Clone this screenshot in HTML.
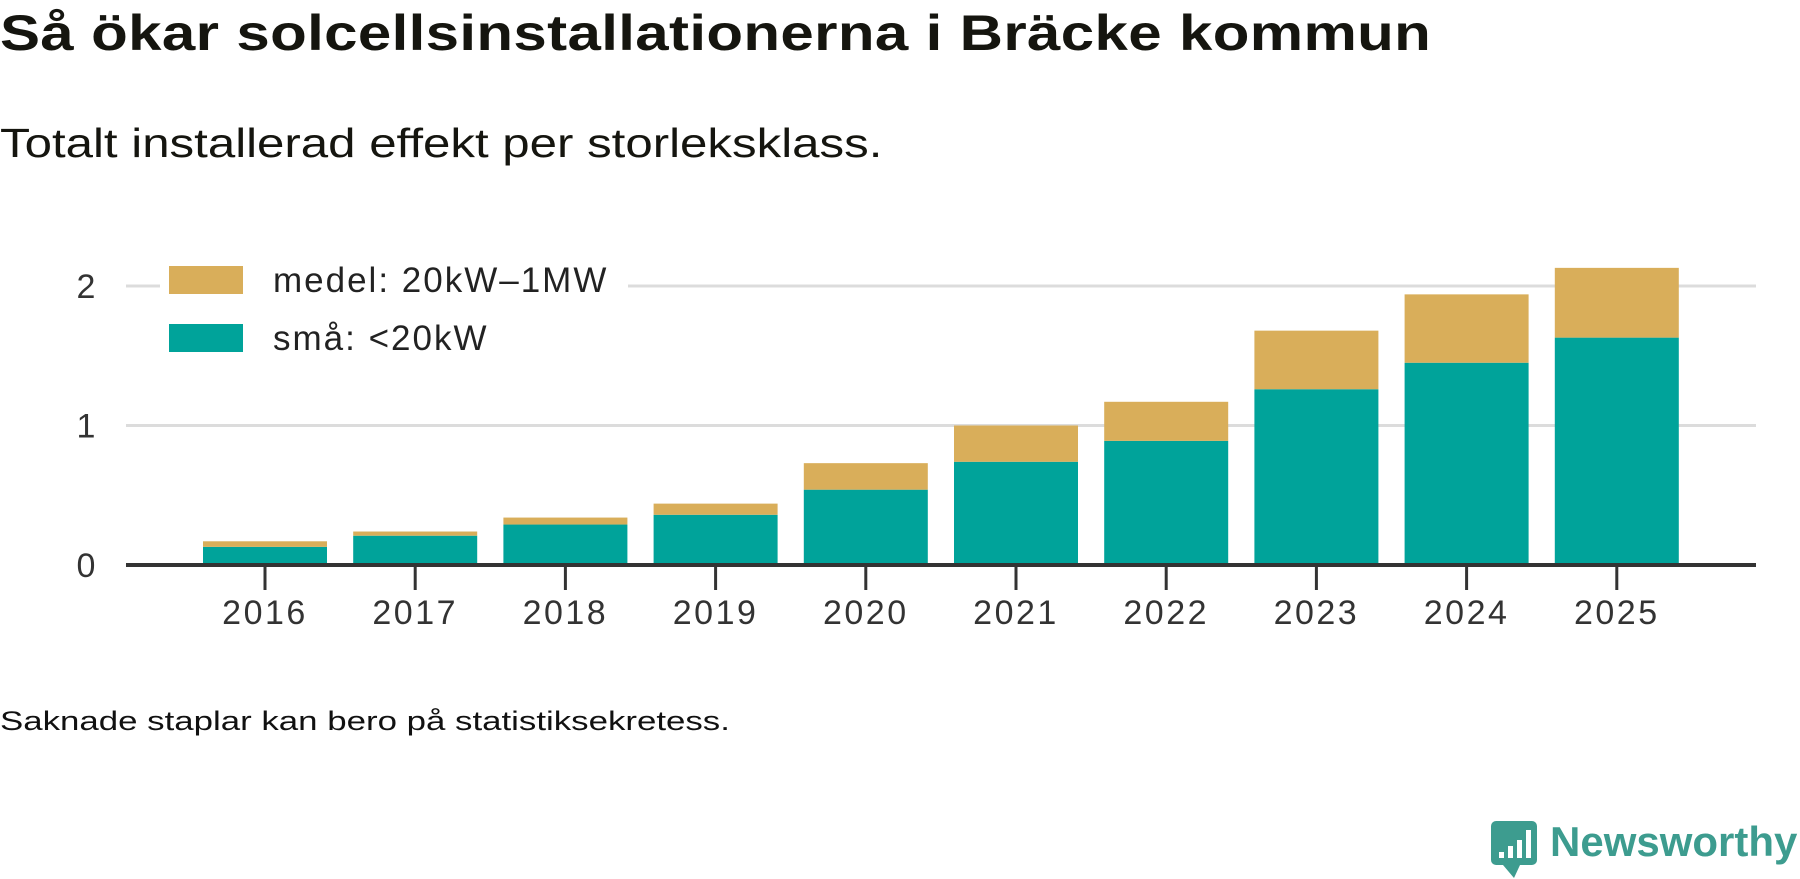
<!DOCTYPE html>
<html><head><meta charset="utf-8">
<style>
body{margin:0;width:1800px;height:879px;background:#fff;overflow:hidden;font-family:"Liberation Sans",sans-serif;color:#111}
#title{position:absolute;left:0;top:4px;font-size:50px;font-weight:bold;letter-spacing:0.3px;color:#15150f;transform:scaleX(1.2);transform-origin:0 0;white-space:nowrap}
#sub{position:absolute;left:0;top:120px;font-size:41px;color:#15150f;transform:scaleX(1.2);transform-origin:0 0;white-space:nowrap}
#foot{position:absolute;left:0;top:706px;font-size:27px;transform:scaleX(1.29);transform-origin:0 0;white-space:nowrap}
#logo-text{position:absolute;left:1550px;top:818px;font-size:42px;font-weight:bold;color:#3d9c8f}
svg{position:absolute;left:0;top:0}
</style></head><body>
<div id="title">Så ökar solcellsinstallationerna i Bräcke kommun</div>
<div id="sub">Totalt installerad effekt per storleksklass.</div>
<div id="foot">Saknade staplar kan bero på statistiksekretess.</div>
<svg width="1800" height="879" id="chart"></svg>
<div id="logo-text">Newsworthy</div>
<script>
const years=["2016","2017","2018","2019","2020","2021","2022","2023","2024","2025"];
const sma=[0.13,0.21,0.29,0.36,0.54,0.74,0.89,1.26,1.45,1.63];
const medel=[0.04,0.03,0.05,0.08,0.19,0.26,0.28,0.42,0.49,0.50];
const yTicks=[0,1,2];
const NS="http://www.w3.org/2000/svg";
const svg=document.getElementById('chart');
const y0=565,unit=139.5,x0=265,step=150.2,bw=124;
const Y=v=>y0-v*unit, X=i=>x0+i*step;
function mk(t,a){const e=document.createElementNS(NS,t);for(const k in a)e.setAttribute(k,a[k]);svg.appendChild(e);return e;}
yTicks.forEach(v=>{
  if(v>0){const g=mk('line',{x1:126,x2:1756,y1:Y(v),y2:Y(v),stroke:'#dcdcdc','stroke-width':3});
  
  }
  const t=mk('text',{x:86,y:Y(v)+12,'font-size':34,fill:'#333','text-anchor':'middle'});
  t.textContent=v;
  
  
});
years.forEach((yr,i)=>{
  const cx=X(i);
  const r1=mk('rect',{x:cx-bw/2,y:Y(sma[i]),width:bw,height:sma[i]*unit,fill:'#00a39a'});
  
  
  const r2=mk('rect',{x:cx-bw/2,y:Y(sma[i]+medel[i]),width:bw,height:medel[i]*unit,fill:'#d9ae5a'});
  
  
  const tk=mk('line',{x1:cx,x2:cx,y1:y0,y2:y0+25,stroke:'#333','stroke-width':3});
  
  
  const t=mk('text',{x:cx,y:624,'font-size':34,fill:'#333','text-anchor':'middle','letter-spacing':2.5});
  t.textContent=yr;
  
  
});
const ax=mk('line',{x1:126,x2:1756,y1:y0,y2:y0,stroke:'#333','stroke-width':4});


// legend
const bg=mk('rect',{x:160,y:258,width:468,height:50,fill:'#fff'});


[["medel: 20kW–1MW",'#d9ae5a',266],["små: <20kW",'#00a39a',324]].forEach(([lab,c,yy])=>{
  const s=mk('rect',{x:169,y:yy,width:74,height:28,fill:c});
  
  
  const t=mk('text',{x:273,y:yy+26,'font-size':35,fill:'#222','letter-spacing':2});
  t.textContent=lab;
  
  
});
// logo icon
const li=mk('rect',{x:1491,y:821,width:46,height:44,rx:5,fill:'#3d9c8f'});


const lt=mk('path',{d:'M1503 865 L1514 878 L1520 865 Z',fill:'#3d9c8f'});


[[1499,852,6],[1508,846,12],[1517,840,18]].forEach(([x,y,h])=>{
  const b=mk('rect',{x:x,y:y,width:5,height:h,fill:'#fff'});
  
  
});
const dot=mk('rect',{x:1526,y:830,width:5,height:28,fill:'#fff'});


</script>
</body></html>
